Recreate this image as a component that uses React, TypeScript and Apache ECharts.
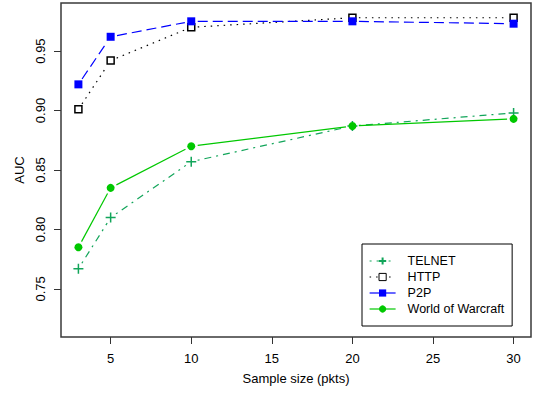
import React, { useEffect, useRef } from "react";
import * as echarts from "echarts";

const sampleSizes = [3, 5, 10, 20, 30];
const telnet = [0.767, 0.810, 0.857, 0.887, 0.898];
const http = [0.901, 0.942, 0.970, 0.978, 0.978];
const p2p = [0.922, 0.962, 0.975, 0.975, 0.973];
const wow = [0.785, 0.835, 0.870, 0.887, 0.893];
const xTicks = [5, 10, 15, 20, 25, 30];
const yTicks = [0.75, 0.8, 0.85, 0.9, 0.95];

const FONT = "'Liberation Sans', Arial, Helvetica, sans-serif";
const C_TELNET = "#12a55a";
const C_HTTP = "#000000";
const C_P2P = "#0000ff";
const C_WOW = "#00c800";

const D_TELNET = [2, 5, 7, 5];
const D_HTTP = [1.5, 5];
const D_P2P = [10, 5];
const LW = 1.2;
const GAP = 6.5;

const pts = (ys: number[]) => sampleSizes.map((x, i) => [x, ys[i]]);
const segs = (ys: number[]) =>
  sampleSizes.slice(1).map((x, i) => [sampleSizes[i], ys[i], x, ys[i + 1]]);

function segSeries(ys: number[], color: string, dash: number[] | null) {
  return {
    type: "custom",
    name: "_seg",
    data: segs(ys),
    encode: { x: [0, 2], y: [1, 3] },
    silent: true,
    renderItem: (params: any, api: any) => {
      const p1 = api.coord([api.value(0), api.value(1)]);
      const p2 = api.coord([api.value(2), api.value(3)]);
      const dx = p2[0] - p1[0];
      const dy = p2[1] - p1[1];
      const len = Math.sqrt(dx * dx + dy * dy);
      if (len <= GAP * 2) return null;
      const ux = dx / len;
      const uy = dy / len;
      return {
        type: "line",
        shape: {
          x1: p1[0] + ux * GAP,
          y1: p1[1] + uy * GAP,
          x2: p2[0] - ux * GAP,
          y2: p2[1] - uy * GAP,
        },
        style: { stroke: color, lineWidth: LW, lineDash: dash || undefined, fill: null },
      };
    },
  };
}

export default function App() {
  const ref = useRef<HTMLDivElement>(null);
  useEffect(() => {
    if (!ref.current) return;
    const chart = echarts.init(ref.current, null, { renderer: "svg" });
    const axisCommon = {
      axisLine: { show: false },
      splitLine: { show: false },
      axisTick: { show: true, length: 7, lineStyle: { color: "#333", width: 1 } },
    };
    chart.setOption({
      animation: false,
      backgroundColor: "#ffffff",
      textStyle: { fontFamily: FONT },
      grid: {
        left: 61,
        right: 5,
        top: 3,
        bottom: 56,
        show: true,
        borderColor: "#3a3a3a",
        borderWidth: 1.5,
        containLabel: false,
        outerBoundsMode: "none",
      },
      xAxis: {
        type: "value",
        min: 1.92,
        max: 31.08,
        name: "Sample size (pkts)",
        nameLocation: "middle",
        nameGap: 35,
        nameTextStyle: { fontSize: 13, color: "#000", fontFamily: FONT },
        ...axisCommon,
        axisTick: { ...axisCommon.axisTick, customValues: xTicks },
        axisLabel: {
          customValues: xTicks,
          fontSize: 13,
          color: "#000",
          margin: 15,
          fontFamily: FONT,
        },
      },
      yAxis: {
        type: "value",
        min: 0.7096,
        max: 0.9904,
        name: "AUC",
        nameLocation: "middle",
        nameGap: 33,
        nameRotate: 90,
        nameTextStyle: { fontSize: 13, color: "#000", fontFamily: FONT },
        ...axisCommon,
        axisTick: { ...axisCommon.axisTick, customValues: yTicks },
        axisLabel: {
          customValues: yTicks,
          rotate: 90,
          fontSize: 13,
          color: "#000",
          margin: 14,
          fontFamily: FONT,
          formatter: (v: number) => v.toFixed(2),
        },
      },
      legend: {
        orient: "vertical",
        left: 362,
        top: 244,
        itemWidth: 26,
        itemHeight: 9,
        itemGap: 2,
        padding: [10, 8, 10, 7],
        borderColor: "#000",
        borderWidth: 1,
        borderRadius: 0,
        backgroundColor: "#fff",
        textStyle: {
          fontSize: 12.5,
          lineHeight: 14,
          height: 14,
          color: "#000",
          fontFamily: FONT,
          padding: [0, 0, 0, 7],
        },
        data: [
          { name: "TELNET", lineStyle: { opacity: 1, color: C_TELNET, width: LW, type: D_TELNET } },
          {
            name: "HTTP",
            lineStyle: { opacity: 1, color: C_HTTP, width: LW, type: D_HTTP },
            itemStyle: { borderWidth: 1 },
          },
          { name: "P2P", lineStyle: { opacity: 1, color: C_P2P, width: LW, type: "solid" } },
          { name: "World of Warcraft", lineStyle: { opacity: 1, color: C_WOW, width: LW, type: "solid" } },
        ],
      },
      series: [
        segSeries(telnet, C_TELNET, D_TELNET),
        segSeries(http, C_HTTP, D_HTTP),
        segSeries(p2p, C_P2P, D_P2P),
        segSeries(wow, C_WOW, null),
        {
          name: "TELNET",
          type: "line",
          data: pts(telnet),
          symbol: "path://M0,5L10,5M5,0L5,10",
          symbolSize: 10,
          itemStyle: { color: C_TELNET, borderColor: C_TELNET, borderWidth: 1.5 },
          lineStyle: { color: C_TELNET, width: LW, type: D_TELNET, opacity: 0 },
        },
        {
          name: "HTTP",
          type: "line",
          data: pts(http),
          symbol: "rect",
          symbolSize: 7,
          itemStyle: { color: "#fff", borderColor: C_HTTP, borderWidth: 1.5 },
          lineStyle: { color: C_HTTP, width: LW, type: D_HTTP, opacity: 0 },
        },
        {
          name: "P2P",
          type: "line",
          data: pts(p2p),
          symbol: "rect",
          symbolSize: 8,
          itemStyle: { color: C_P2P },
          lineStyle: { color: C_P2P, width: LW, type: D_P2P, opacity: 0 },
        },
        {
          name: "World of Warcraft",
          type: "line",
          data: pts(wow),
          symbol: "circle",
          symbolSize: 8,
          itemStyle: { color: C_WOW },
          lineStyle: { color: C_WOW, width: LW, type: "solid", opacity: 0 },
        },
      ],
    });
    return () => chart.dispose();
  }, []);
  return (
    <div
      ref={ref}
      style={{ position: "fixed", left: 0, top: 0, width: 536, height: 393, background: "#fff" }}
    />
  );
}
